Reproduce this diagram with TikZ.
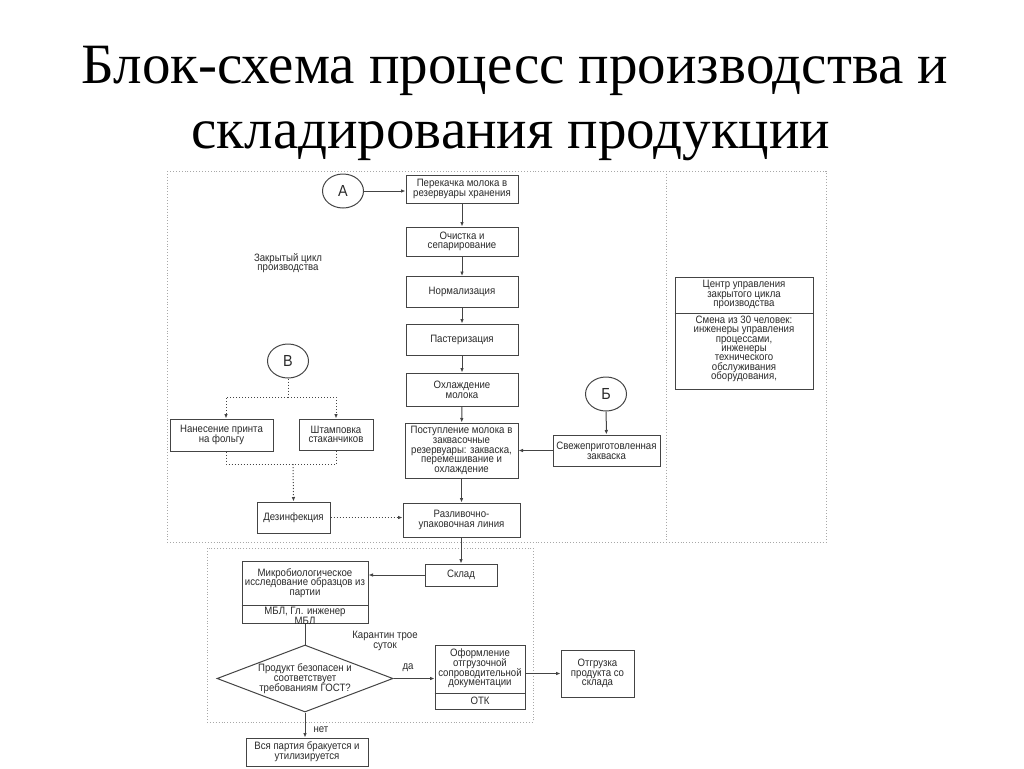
\documentclass[tikz,border=0pt]{standalone}
\usepackage{fontspec}
\setmainfont{Liberation Serif}
\newfontfamily\dsans[FakeStretch=0.9]{Liberation Sans}
\usetikzlibrary{shapes.geometric,arrows.meta}
\definecolor{ln}{HTML}{444444}
\definecolor{tx}{HTML}{2A2A2A}
\definecolor{dotc}{HTML}{A8A8A8}
\newcommand\dfont{\dsans\fontsize{10.7}{9.7}\selectfont\lineskiplimit=-20pt\relax}
\newcommand\dfontb{\dsans\fontsize{10.7}{9.3}\selectfont\lineskiplimit=-20pt\relax}
\tikzset{
  box/.style={draw=ln, line width=1pt, fill=white, align=center, inner sep=1pt,
    font=\dfont, text=tx},
  lbl/.style={align=center, inner sep=0pt, font=\dfont, text=tx},
  circ/.style={draw=ln, line width=1pt, ellipse, minimum width=41pt, minimum height=34pt,
    inner sep=0pt, font=\dsans\fontsize{16}{16}\selectfont, text=tx},
  arr/.style={draw=ln, line width=1pt, -{Latex[length=4.5pt,width=3.6pt]}},
  ln0/.style={draw=ln, line width=1pt},
  darr/.style={draw=ln, line width=1pt, dotted, -{Latex[length=4.5pt,width=3.6pt]}},
  dln/.style={draw=ln, line width=1pt, dotted},
  frame/.style={draw=dotc, line width=0.9pt, dotted},
  ttl/.style={inner sep=0pt, anchor=base, font=\fontsize{57}{57}\selectfont}
}
\begin{document}
\begin{tikzpicture}[x=1pt,y=-1pt]
\useasboundingbox (0,0) rectangle (1024,768);
\fill[white] (0,0) rectangle (1024,768);
% title
\node[ttl] (t1) at (515,83) {Блок-схема процесс производства и};
\node[ttl] (t2) at (511,148) {складирования продукции};
% frames
\draw[frame] (167,171) rectangle (826,542);
\draw[frame] (666,171) -- (666,542);
\draw[frame] (207,548) rectangle (533,722);
% main column
\node[circ] (A) at (343,191) {А};
\node[box, minimum width=112pt, minimum height=28pt] (n1) at (462,189) {Перекачка молока в\\резервуары хранения};
\node[box, minimum width=112pt, minimum height=29pt] (n2) at (462,241.5) {Очистка и\\сепарирование};
\node[box, minimum width=112pt, minimum height=31pt] (n3) at (462,292) {Нормализация};
\node[box, minimum width=112pt, minimum height=31pt] (n4) at (462,339.5) {Пастеризация};
\node[box, minimum width=112pt, minimum height=33pt] (n5) at (462,389.5) {Охлаждение\\молока};
\node[box, minimum width=113pt, minimum height=55pt] (n6) at (461.5,450.5) {Поступление молока в\\заквасочные\\резервуары: закваска,\\перемешивание и\\охлаждение};
\node[box, minimum width=117pt, minimum height=34pt] (n7) at (461.5,520) {Разливочно-\\упаковочная линия};
\node[lbl] (zc) at (288,263) {Закрытый цикл\\производства};
% B branch
\node[circ] (B) at (288,361) {В};
\node[box, minimum width=103pt, minimum height=32pt] (nan) at (221.5,435) {Нанесение принта\\на фольгу};
\node[box, minimum width=74pt, minimum height=31pt] (stp) at (336,434.5) {Штамповка\\стаканчиков};
\node[box, minimum width=73pt, minimum height=31pt] (dez) at (293.5,517.5) {Дезинфекция};
\coordinate (bj) at (288,397);
\coordinate (dj) at (293,464);
% Б branch
\node[circ] (Bv) at (606,394) {Б};
\node[box, minimum width=107pt, minimum height=31pt, inner sep=0pt] (svz) at (606.5,450.5) {Свежеприготовленная\\закваска};
% control centre
\node[box, minimum width=138pt, minimum height=112pt] (cc) at (744,333) {};
\draw[ln0] (cc.west |- 0,313) -- (cc.east |- 0,313);
\node[lbl, anchor=north] (cc1) at (744,280) {Центр управления\\закрытого цикла\\производства};
\node[lbl, anchor=north, font=\dfontb] (cc2) at (744,316) {Смена из 30 человек:\\инженеры управления\\процессами,\\инженеры\\технического\\обслуживания\\оборудования,};
% storage section
\node[box, minimum width=72pt, minimum height=22pt] (skl) at (461,575) {Склад};
\node[box, minimum width=126pt, minimum height=62pt] (mb) at (305,592) {};
\draw[ln0] (mb.west |- 0,605) -- (mb.east |- 0,605);
\node[lbl] (mb1) at (305,583) {Микробиологическое\\исследование образцов из\\партии};
\node[lbl] (mb2) at (305,616) {МБЛ, Гл. инженер\\МБЛ};
\node[lbl] (kar) at (385,641) {Карантин трое\\суток};
\node[draw=ln, line width=1pt, diamond, minimum width=176pt, minimum height=67pt, inner sep=0pt, fill=white] (dm) at (305,678.5) {};
\node[lbl] (dmt) at (305,678.5) {Продукт безопасен и\\соответствует\\требованиям ГОСТ?};
\node[box, minimum width=90pt, minimum height=64pt] (of) at (480,677) {};
\draw[ln0] (of.west |- 0,693) -- (of.east |- 0,693);
\node[lbl] (of1) at (480,668.5) {Оформление\\отгрузочной\\сопроводительной\\документации};
\node[lbl] (of2) at (480,701) {ОТК};
\node[box, minimum width=73pt, minimum height=47pt] (ot) at (597.5,673.5) {Отгрузка\\продукта со\\склада};
\node[box, minimum width=122pt, minimum height=28pt] (vp) at (307,752) {Вся партия бракуется и\\утилизируется};
\node[lbl] (da) at (408,668) {да};
\node[lbl] (net) at (321,730) {нет};
% connectors
\draw[arr] (A.east) -- (n1.west |- A.east);
\draw[arr] (n1) -- (n2);
\draw[arr] (n2) -- (n3);
\draw[arr] (n3) -- (n4);
\draw[arr] (n4) -- (n5);
\draw[arr] (n5) -- (n6);
\draw[arr] (n6) -- (n7);
\draw[arr] (n7.south -| skl.north) -- (skl.north);
\draw[arr] (Bv) -- (svz);
\draw[arr] (svz.west) -- (n6.east |- svz.west);
\draw[dln] (B.south) -- (bj);
\draw[darr] (bj) -| ([xshift=4.5pt]nan.north);
\draw[darr] (bj) -| (stp.north);
\draw[dln] ([xshift=4.5pt]nan.south) |- (dj);
\draw[dln] (stp.south) |- (dj);
\draw[darr] (dj) -- (dez.north);
\draw[darr] (dez.east) -- (n7.west |- dez.east);
\draw[arr] (skl.west) -- (mb.east |- skl.west);
\draw[ln0] (mb.south) -- (dm.north);
\draw[arr] (dm.east) -- (of.west |- dm.east);
\draw[arr] (of.east |- ot.west) -- (ot.west);
\draw[arr] (dm.south) -- (dm.south |- vp.north);
\end{tikzpicture}
\end{document}
